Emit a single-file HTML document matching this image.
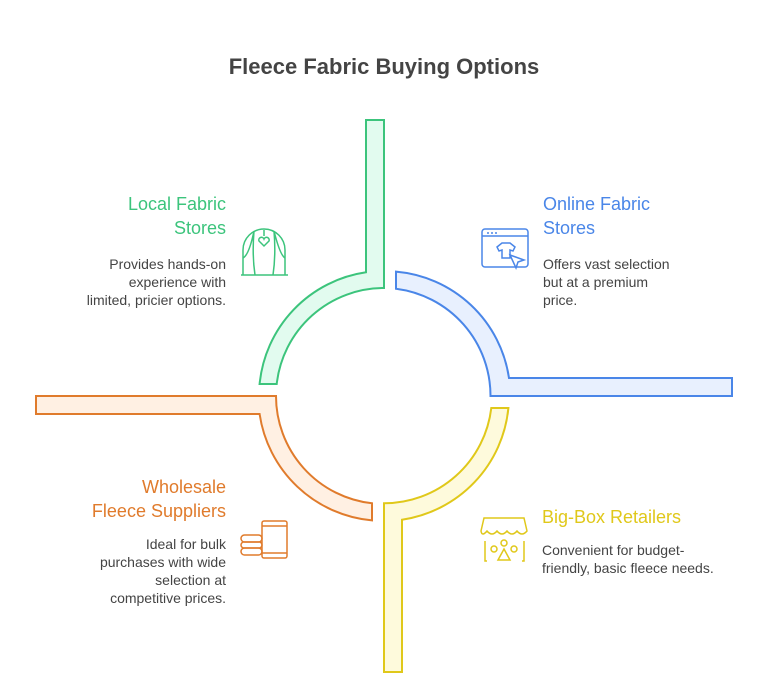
<!DOCTYPE html>
<html><head><meta charset="utf-8"><style>
body{margin:0;width:768px;height:688px;background:#fff;overflow:hidden}
svg text{font-family:"Liberation Sans",sans-serif}
</style></head><body>
<svg width="768" height="688" viewBox="0 0 768 688" xmlns="http://www.w3.org/2000/svg">
<text x="384" y="74" text-anchor="middle" font-size="22" font-weight="bold" fill="#444">Fleece Fabric Buying Options</text>
<!-- green -->
<path d="M259.6,384 A125,125 0 0 1 366,272.3 L366,120 L384,120 L384,288 A108,108 0 0 0 276.7,384 Z" fill="#e2fbef" stroke="#3cc47c" stroke-width="2"/>
<!-- blue -->
<path d="M396,271.6 A125,125 0 0 1 509,378 L732,378 L732,396 L491,396 L490.5,396 A108,108 0 0 0 396,288.7 Z" fill="#e8f0fe" stroke="#4a86e8" stroke-width="2"/>
<!-- orange -->
<path d="M372,520.4 A125,125 0 0 1 259.6,414 L36,414 L36,396 L276,396 A108,108 0 0 0 372,503.3 Z" fill="#fff0e3" stroke="#e07b2c" stroke-width="2"/>
<!-- yellow -->
<path d="M508.4,408 A125,125 0 0 1 402,519.7 L402,672 L384,672 L384,504 L384,503.3 A108,108 0 0 0 491.3,408 Z" fill="#fefadc" stroke="#e0c81a" stroke-width="2"/>

<g font-size="18">
<text x="226" y="210" text-anchor="end" fill="#3cc47c">Local Fabric</text>
<text x="226" y="234" text-anchor="end" fill="#3cc47c">Stores</text>
<text x="543" y="210" fill="#4a86e8">Online Fabric</text>
<text x="543" y="234" fill="#4a86e8">Stores</text>
<text x="226" y="493" text-anchor="end" fill="#e07b2c">Wholesale</text>
<text x="226" y="517" text-anchor="end" fill="#e07b2c">Fleece Suppliers</text>
<text x="542" y="523" fill="#e0c81a">Big-Box Retailers</text>
</g>
<g font-size="14" fill="#444">
<text x="226" y="269" text-anchor="end">Provides hands-on</text>
<text x="226" y="287" text-anchor="end">experience with</text>
<text x="226" y="305" text-anchor="end">limited, pricier options.</text>
<text x="543" y="269">Offers vast selection</text>
<text x="543" y="287">but at a premium</text>
<text x="543" y="305">price.</text>
<text x="226" y="549" text-anchor="end">Ideal for bulk</text>
<text x="226" y="567" text-anchor="end">purchases with wide</text>
<text x="226" y="585" text-anchor="end">selection at</text>
<text x="226" y="603" text-anchor="end">competitive prices.</text>
<text x="542" y="555">Convenient for budget-</text>
<text x="542" y="573">friendly, basic fleece needs.</text>
</g>
<!-- icons -->
<g fill="none" stroke="#3cc47c" stroke-width="1.5">
<path d="M243,275 L243,250 A20,20 0 0 1 285,250 L285,275"/>
<path d="M241,275 L288,275"/>
<path d="M254,231 Q249,255 243,258 M254,231 Q252,255 255,275 M274,231 Q280,255 285,258 M274,231 Q276,255 273,275"/>
<path d="M264,230 L264,236 M264,246 l-5,-5 a2.5,2.5 0 0 1 5,-2 a2.5,2.5 0 0 1 5,2 Z"/>
</g>
<g fill="none" stroke="#4a86e8" stroke-width="1.5">
<rect x="482" y="229" width="46" height="38" rx="3"/>
<path d="M482,236 L528,236"/>
<path d="M497,247 l5,-4 h8 l5,4 -2,4 -3,-1 v8 h-8 v-8 l-3,1 Z"/>
<path d="M510,255 l14,5 -6,2 -2,6 Z" fill="#fff"/>
</g>
<g fill="#4a86e8"><circle cx="488" cy="233" r="1"/><circle cx="492" cy="233" r="1"/><circle cx="496" cy="233" r="1"/></g>
<g fill="none" stroke="#e07b2c" stroke-width="1.5">
<rect x="262" y="521" width="25" height="37" rx="2"/>
<path d="M262,526 H287 M262,553 H287"/>
<rect x="241" y="535" width="21" height="7" rx="3.5"/>
<rect x="241" y="542" width="21" height="6" rx="3"/>
<rect x="241" y="548" width="21" height="7" rx="3.5"/>
</g>
<g fill="none" stroke="#e0c81a" stroke-width="1.5">
<path d="M484,518 h40 l3,13 q-5,6 -10,0 q-5,6 -10,0 q-5,6 -10,0 q-5,6 -10,0 q-5,6 -6,0 Z"/>
<path d="M485,541 v20 h2 M524,541 v20 h-2"/>
<circle cx="504" cy="543" r="3"/><circle cx="494" cy="549" r="3"/><circle cx="514" cy="549" r="3"/>
<path d="M504,549 l-6,11 h12 Z"/>
</g>
</svg>
</body></html>
